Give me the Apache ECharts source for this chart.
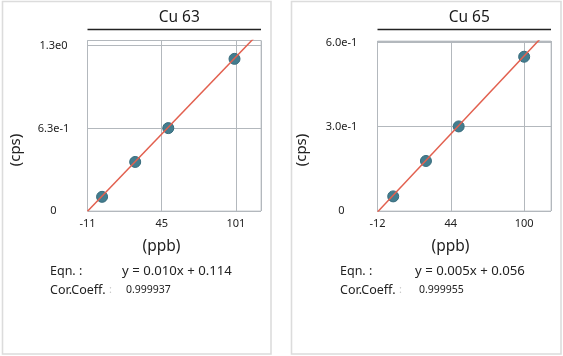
<!DOCTYPE html>
<html><head><meta charset="utf-8">
<script src="https://cdn.jsdelivr.net/npm/echarts@6/dist/echarts.min.js"></script>
<style>html,body{margin:0;padding:0;background:#fff}#c{width:563px;height:356px}</style>
</head><body><div id="c"></div>
<script>
// ---- data ----
const panelTitles = ['Cu 63', 'Cu 65'];
const concPpb = [0, 25, 50, 100];
const cu63Cps = [0.108, 0.374, 0.632, 1.160];
const cu65Cps = [0.052, 0.178, 0.301, 0.549];
const fitSlope = [0.0105, 0.00496];
const fitIntercept = [0.114, 0.056];
const xAxisMin = [-11, -12];
const xAxisMax = [120, 120.5];
const xTickStep = [56, 56];
const xTickLabels = [['-11', '45', '101'], ['-12', '44', '100']];
const yAxisMax = [1.30, 0.605];
const yTickStep = [0.63, 0.3];
const yTickLabels = [['0', '6.3e-1', '1.3e0'], ['0', '3.0e-1', '6.0e-1']];
const xUnit = '(ppb)';
const yUnit = '(cps)';
const eqnLabel = 'Eqn. :';
const corLabel = 'Cor.Coeff.';
const eqnTexts = ['y = 0.010x + 0.114', 'y = 0.005x + 0.056'];
const corTexts = ['0.999937', '0.999955'];

const seriesValues = [cu63Cps, cu65Cps];
const FONT = '"Noto Sans", "Open Sans", sans-serif';

// ---- layout ----
const panels = [
  {x0: 2.5, x1: 271, gridLeft: 87.5, gridTop: 40.5, gridW: 173.5, gridH: 170.5, yLabMargin: 34, off: 0, valOff: 0},
  {x0: 291.5, x1: 561, gridLeft: 377.5, gridTop: 41, gridW: 173.5, gridH: 170, yLabMargin: 36, off: 290, valOff: 293}
];

const grids = [], xAxes = [], yAxes = [], series = [], graphics = [], titles = [];
panels.forEach((p, i) => {
  grids.push({left: p.gridLeft, top: p.gridTop, width: p.gridW, height: p.gridH,
    show: true, borderColor: '#c9cdd1', borderWidth: 1, backgroundColor: 'transparent'});
  const xl = xTickLabels[i];
  const xmin = xAxisMin[i], step = xTickStep[i];
  xAxes.push({type: 'value', gridIndex: i, min: xmin, max: xAxisMax[i], interval: step,
    axisLine: {show: false}, axisTick: {show: false},
    splitLine: {show: true, lineStyle: {color: '#b3b8bd', width: 1}},
    axisLabel: {color: '#222', fontSize: 11, fontFamily: FONT, margin: 7, showMaxLabel: true, showMinLabel: true,
      formatter: v => { const k = Math.round((v - xmin) / step); return (Math.abs(v - (xmin + k * step)) < 1e-6 && k < xl.length) ? xl[k] : ''; }}
  });
  const yl = yTickLabels[i], ys = yTickStep[i];
  yAxes.push({type: 'value', gridIndex: i, min: 0, max: yAxisMax[i], interval: ys,
    axisLine: {show: false}, axisTick: {show: false},
    splitLine: {show: true, lineStyle: {color: '#b3b8bd', width: 1}},
    axisLabel: {color: '#222', fontSize: 11, fontFamily: FONT, align: 'center', margin: p.yLabMargin,
      showMaxLabel: true, showMinLabel: true,
      formatter: v => { const k = Math.round(v / ys); return (Math.abs(v - k * ys) < 1e-6 && k < yl.length) ? yl[k] : ''; }}
  });
  series.push({type: 'scatter', xAxisIndex: i, yAxisIndex: i, symbolSize: 11, z: 2,
    itemStyle: {color: '#437d8f', borderColor: '#376b7c', borderWidth: 1, opacity: 1},
    data: concPpb.map((c, j) => [c, seriesValues[i][j]])});
  const f = x => fitSlope[i] * x + fitIntercept[i];
  series.push({type: 'line', xAxisIndex: i, yAxisIndex: i, symbol: 'none', z: 3, clip: true,
    lineStyle: {color: '#e2604f', width: 1.5}, silent: true,
    data: [[xAxisMin[i], f(xAxisMin[i])], [xAxisMax[i], f(xAxisMax[i])]]});

  // panel frame
  graphics.push({type: 'rect', shape: {x: p.x0, y: 1.5, width: p.x1 - p.x0, height: 352.5},
    style: {fill: 'none', stroke: '#dcdcdc', lineWidth: 1.6}, z: 0});
  // title + underline
  titles.push({text: panelTitles[i], left: p.gridLeft + p.gridW / 2, top: 5, textAlign: 'center',
    textStyle: {fontSize: 15.5, fontWeight: 'normal', color: '#1a1a1a', fontFamily: FONT}});
  graphics.push({type: 'line', shape: {x1: p.gridLeft, y1: 29.5, x2: p.gridLeft + p.gridW, y2: 29.5},
    style: {stroke: '#222', lineWidth: 1.5}});
  // axis unit labels
  graphics.push({type: 'text', x: 16 + p.off - (i ? 4 : 0), y: 150, rotation: Math.PI / 2,
    style: {text: yUnit, fontSize: 15, fontFamily: FONT, fill: '#222', align: 'center', verticalAlign: 'middle'}});
  graphics.push({type: 'text', x: 161.5 + p.off - (i ? 1 : 0), y: 247,
    style: {text: xUnit, fontSize: 15.5, fontFamily: FONT, fill: '#222', align: 'center', verticalAlign: 'middle'}});
  // equation block
  graphics.push({type: 'text', x: 50 + p.off, y: 271,
    style: {text: eqnLabel, fontSize: 12.5, fontFamily: FONT, fill: '#222', align: 'left', verticalAlign: 'middle'}});
  graphics.push({type: 'text', x: 122 + p.valOff, y: 271,
    style: {text: eqnTexts[i], fontSize: 13.2, fontFamily: FONT, fill: '#222', align: 'left', verticalAlign: 'middle'}});
  graphics.push({type: 'text', x: 50 + p.off, y: 290,
    style: {text: corLabel, fontSize: 12.5, fontFamily: FONT, fill: '#222', align: 'left', verticalAlign: 'middle'}});
  graphics.push({type: 'text', x: 109 + p.off, y: 290,
    style: {text: ':', fontSize: 11, fontFamily: FONT, fill: '#c8c8c8', align: 'left', verticalAlign: 'middle'}});
  graphics.push({type: 'text', x: 126 + p.valOff, y: 290,
    style: {text: corTexts[i], fontSize: 10.5, fontFamily: FONT, fill: '#222', align: 'left', verticalAlign: 'middle'}});
});

const chart = echarts.init(document.getElementById('c'), null, {renderer: 'canvas'});
chart.setOption({
  animation: false,
  backgroundColor: '#fff',
  title: titles,
  grid: grids, xAxis: xAxes, yAxis: yAxes, series: series,
  graphic: graphics
});
</script></body></html>
